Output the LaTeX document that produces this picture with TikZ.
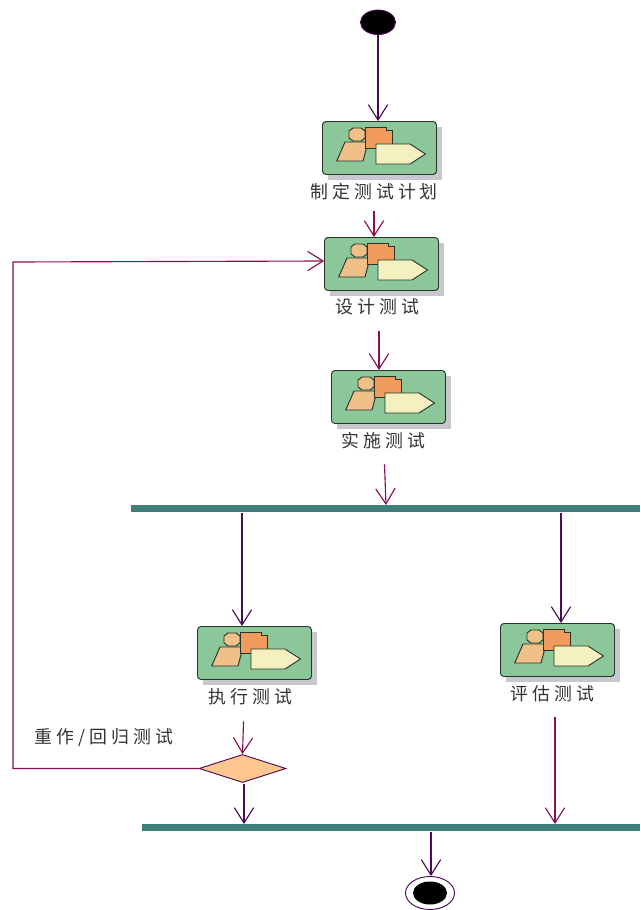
\documentclass[tikz,border=0pt]{standalone}
\usepackage{fontspec}
\usetikzlibrary{arrows.meta,shapes.misc,shapes.geometric,calc}
\newfontfamily\cjk[LetterSpace=23]{Noto Sans CJK SC}
\definecolor{maroonline}{HTML}{8B0F50}
\definecolor{purpleline}{HTML}{4A0A55}
\definecolor{boxgreen}{HTML}{8CC79A}
\definecolor{boxshadow}{HTML}{C6C8CE}
\definecolor{barteal}{HTML}{3F7F7A}
\definecolor{parafill}{HTML}{EFC088}
\definecolor{docfill}{HTML}{F09A5C}
\definecolor{pentfill}{HTML}{F4F0C0}
\definecolor{diafill}{HTML}{FFC78F}
\definecolor{outlinegreen}{HTML}{24352C}
\newcommand{\pxu}{0.75pt}
\tikzset{
  x=0.75pt,y=-0.75pt,
  flowm/.style={draw=maroonline,line width=0.85pt,-{Straight Barb[length=11.5pt,width=14.5pt]}},
  flowp/.style={draw=purpleline,line width=0.85pt,-{Straight Barb[length=11.5pt,width=14.5pt]}},
  actbox/.style={rounded corners=2.6pt,draw=outlinegreen,line width=0.7pt,fill=boxgreen,minimum width=114*\pxu,minimum height=53*\pxu,inner sep=0pt},
  actlabel/.style={font=\cjk\fontsize{13.4pt}{15pt}\selectfont,text=black!80,inner sep=0pt,minimum height=20*\pxu},
  syncbar/.style={fill=barteal,draw=none,inner sep=0pt,minimum height=7*\pxu},
  iconpart/.style={draw=outlinegreen,line width=0.7pt},
}
\newcommand{\activity}[6]{% name, x, y, label x, label y, label text
  \fill[boxshadow] (#2+6,#3+6) rectangle (#2+120,#3+59);
  \node[actbox,anchor=north west] (#1) at (#2,#3) {};
  \begin{scope}[shift={(#2,#3)}]
    \draw[iconpart,fill=parafill] (23,21) -- (46,21) -- (41,40) -- (14.7,40) -- cycle;
    \draw[iconpart,fill=parafill] (31,7) -- (39,7) -- (43,10) -- (43,17) -- (39,20) -- (31,20) -- (27,17) -- (27,10) -- cycle;
    \draw[iconpart,fill=docfill] (43,6) -- (64,6) -- (64,9) -- (70,9) -- (70,27) -- (43,27) -- cycle;
    \draw[iconpart,fill=pentfill] (54,23) -- (88,23) -- (103.5,33) -- (88,43) -- (54,43) -- cycle;
  \end{scope}
  \node[actlabel] (l#1) at (#4,#5) {#6};
}
\begin{document}
\begin{tikzpicture}
\useasboundingbox (0,0) rectangle (640,910);
% initial
\node[ellipse,draw=purpleline,fill=black,line width=0.7pt,minimum width=35*\pxu,minimum height=24.5*\pxu,inner sep=0pt] (start) at (378,22.3) {};
% activities
\activity{plan}{322}{121}{374}{192}{制定测试计划}
\activity{design}{324}{237}{377}{307}{设计测试}
\activity{impl}{331}{370}{383}{441}{实施测试}
\activity{exec}{197}{626}{250}{697}{执行测试}
\activity{eval}{500}{623}{552}{694}{评估测试}
% bars
\node[syncbar,minimum width=509*\pxu,anchor=north west] (fork) at (131,505) {};
\node[syncbar,minimum width=498*\pxu,anchor=north west] (join) at (142,824) {};
% decision
\node[diamond,aspect=3.1,draw=purpleline,fill=diafill,line width=0.7pt,minimum width=87*\pxu,minimum height=28*\pxu,inner sep=0pt] (dec) at (242.5,768.5) {};
\node[actlabel] (redo) at (104,738) {重作/回归测试};
% final
\node[ellipse,draw=purpleline,fill=white,line width=0.7pt,minimum width=49*\pxu,minimum height=33*\pxu,inner sep=0pt] (final) at (430,893) {};
\node[ellipse,fill=black,draw=none,minimum width=34*\pxu,minimum height=23*\pxu,inner sep=0pt] (finalin) at (430,893) {};
% free-end coordinates
\coordinate (f1) at (242,513);
\coordinate (f2) at (561,513);
\coordinate (t3) at (386,505);
\coordinate (j1) at (244,784);
\coordinate (j2) at (555,717);
\coordinate (j3) at (431,832);
\coordinate (loopin) at (324,261);
% connectors
\draw[flowp] (start.south) -- (start.south |- plan.north);
\draw[flowm,shorten <=9*\pxu] (lplan.south) -- (lplan.south |- design.north);
\draw[flowm,shorten <=14*\pxu] ([xshift=2*\pxu]ldesign.south) -- ([xshift=2*\pxu]ldesign.south |- impl.north);
\draw[flowm,shorten <=13*\pxu] ([xshift=\pxu]limpl.south) -- (t3);
\draw[flowp] (f1) -- (f1 |- exec.north);
\draw[flowp] (f2) -- (f2 |- eval.north);
\draw[flowm,shorten <=14*\pxu] ([xshift=-6*\pxu]lexec.south) -- (dec.north);
\draw[flowp] (j1) -- (j1 |- join.north);
\draw[flowm] (j2) -- (j2 |- join.north);
\draw[flowp] (j3) -- (j3 |- final.north);
\draw[flowm] (dec.west) -- (13,768.5) -- (13,262) -- (loopin);
\end{tikzpicture}
\end{document}
